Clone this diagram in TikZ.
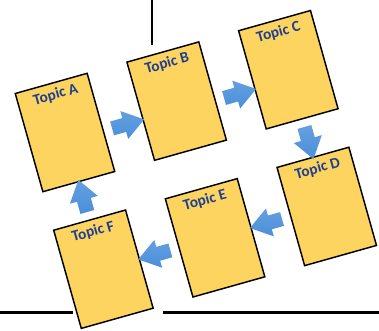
\documentclass[tikz,border=0pt]{standalone}
\usepackage{fontspec}
\newfontfamily\topicfont{Carlito}
\usetikzlibrary{shapes.arrows,calc}

\definecolor{cardyellow}{HTML}{FDD45F}
\definecolor{topicblue}{HTML}{1F3F91}
\definecolor{arrowblue}{HTML}{4A8FDA}

\tikzset{every picture/.style={line width=0.75pt}}
\tikzset{
  card/.style={draw=black, line width=1.1pt, fill=cardyellow, inner sep=0pt,
    minimum width=56pt, minimum height=76.5pt, rotate=15.7},
  topic/.style={anchor=north west, inner xsep=12pt, inner ysep=4.5pt, rotate=15.7,
    text=topicblue, font=\topicfont\bfseries\fontsize{11.5}{13}\selectfont},
  blockarrow/.style={single arrow, draw=none, inner xsep=0pt, inner ysep=5pt,
    minimum height=25pt, single arrow head extend=5.5pt, single arrow tip angle=70,
    top color=arrowblue!85!white, bottom color=arrowblue},
}

\begin{document}
\begin{tikzpicture}[x=0.75pt,y=0.75pt,yscale=-1,xscale=1]
    \useasboundingbox (0,0) rectangle (379,330);

    %Straight Lines: rule on top
    \draw [line width=1.5pt] (152.3,0) -- (152.3,45) ;
    %Straight Lines: rule at the bottom
    \draw [line width=2.2pt] (0,312.5) -- (73,312.5) ;
    \draw [line width=2.2pt] (163,312.5) -- (379,312.5) ;

    \begin{scope}[shift={(65,132.5)}, rotate=-15.7]
    %Shape: Cards
    \node [card] (a) at (0,0) {};
    \node [card] (b) at (116,0) {};
    \node [card] (c) at (232,0) {};
    \node [card] (d) at (232,142) {};
    \node [card] (e) at (116,142) {};
    \node [card] (f) at (0,142) {};
    \end{scope}

    % Text Node
    \node [topic] (ta) at (a.north west) {Topic A};
    \node [topic] (tb) at (b.north west) {Topic B};
    \node [topic] (tc) at (c.north west) {Topic C};
    \node [topic] (td) at (d.north west) {Topic D};
    \node [topic] (te) at (e.north west) {Topic E};
    \node [topic] (tf) at (f.north west) {Topic F};

    %Block Arrows
    \node [blockarrow, rotate=15.7] (ab) at ($(a.east)!0.5!(b.west)+0.17*(a.south)-0.17*(a)$) {};
    \node [blockarrow, rotate=15.7] (bc) at ($(b.east)!0.5!(c.west)+0.19*(b.south)-0.19*(b)$) {};
    \node [blockarrow, rotate=-74.3] (cd) at ($(c.south)!0.5!(d.north)$) {};
    \node [blockarrow, rotate=195.7] (de) at ($(d.west)!0.5!(e.east)$) {};
    \node [blockarrow, rotate=195.7] (ef) at ($(e.west)!0.5!(f.east)$) {};
    \node [blockarrow, rotate=105.7] (fa) at ($(f.north)!0.5!(a.south)$) {};

\end{tikzpicture}
\end{document}
